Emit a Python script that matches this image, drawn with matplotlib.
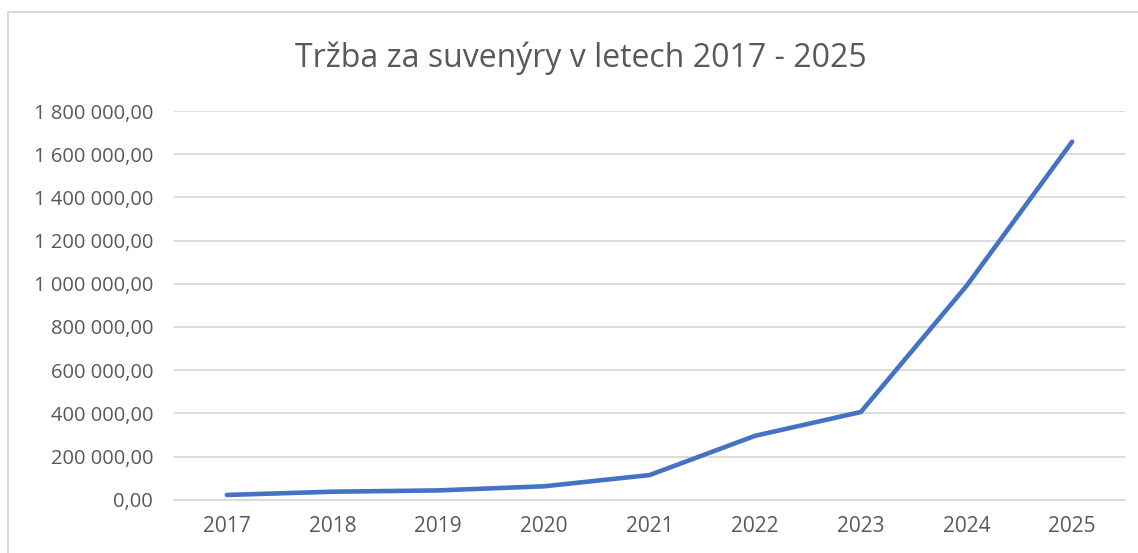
import matplotlib
matplotlib.use("Agg")
import matplotlib.pyplot as plt
from matplotlib.ticker import FuncFormatter, MultipleLocator
from matplotlib.patches import Rectangle

years = ["2017", "2018", "2019", "2020", "2021", "2022", "2023", "2024", "2025"]
revenue = [22000, 37000, 43000, 62000, 114000, 296000, 406000, 990000, 1658000]
title = "Tržba za suvenýry v letech 2017 - 2025"

plt.rcParams['font.family'] = ['Open Sans', 'DejaVu Sans']

fig = plt.figure(figsize=(11.38, 5.53), dpi=100)
ax = fig.add_axes([174/1138, (553-499.7)/553, (1125-174)/1138, (499.7-111)/553])

x = list(range(len(years)))
ax.plot(x, revenue, color="#4472C4", linewidth=3.3, solid_capstyle="round", solid_joinstyle="round", zorder=3)

ax.set_xlim(-0.5, len(years) - 0.5)
ax.set_ylim(0, 1800000)
ax.yaxis.set_major_locator(MultipleLocator(200000))

def fmt(v, pos):
    s = f"{v:,.2f}".replace(",", " ").replace(".", ",")
    return s
ax.yaxis.set_major_formatter(FuncFormatter(fmt))
ax.set_xticks(x)
ax.set_xticklabels(years)

ax.grid(axis="y", color="#D9D9D9", linewidth=1.3)
ax.set_axisbelow(True)
for s in ["top", "right", "left"]:
    ax.spines[s].set_visible(False)
ax.spines["bottom"].set_color("#D9D9D9")
ax.spines["bottom"].set_linewidth(1.3)
ax.tick_params(axis="y", length=0, colors="#595959", labelsize=14.5, pad=15)
ax.tick_params(axis="x", length=0, colors="#595959", labelsize=15, pad=12)

fig.text(581/1138, 1 - 58/553, title, ha="center", va="center", fontsize=23, color="#595959")

fig.patches.append(Rectangle((8/1138, -0.1), 1.2, 1 - 12/553 + 0.1, transform=fig.transFigure,
                             fill=False, edgecolor="#D9D9D9", linewidth=1.5))

fig.savefig("out.png", dpi=100)
